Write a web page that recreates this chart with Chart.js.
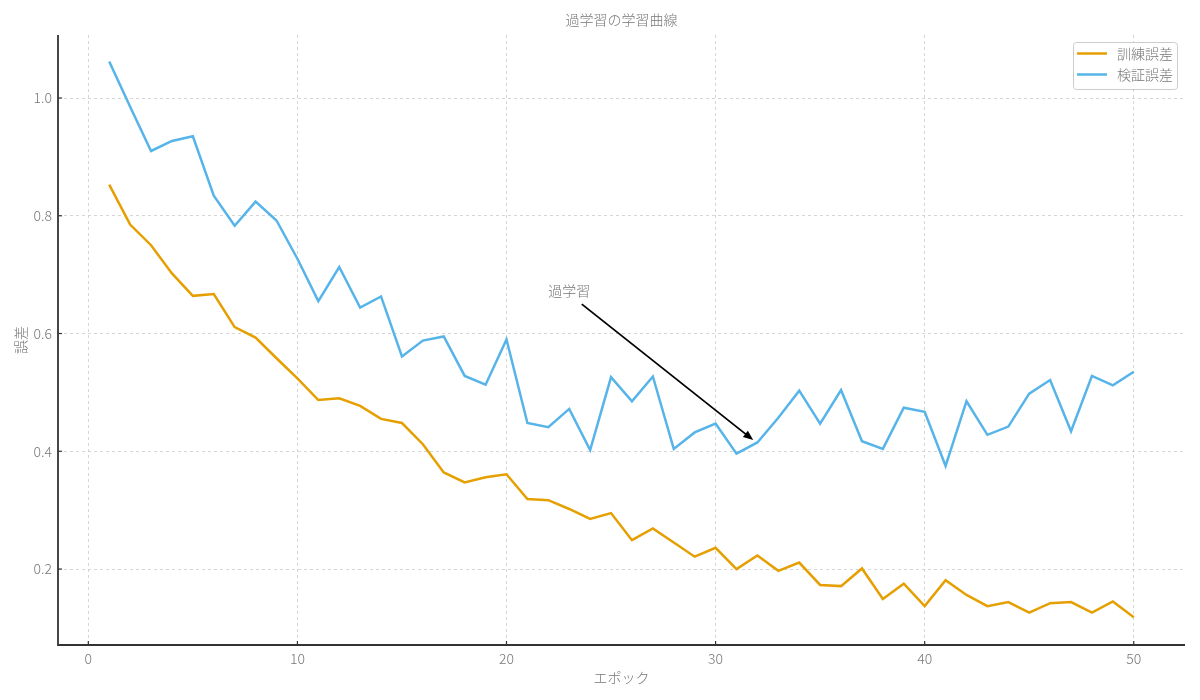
<!DOCTYPE html>
<html>
<head>
<meta charset="utf-8">
<script src="https://cdn.jsdelivr.net/npm/chart.js@4"></script>
<style>
  html, body { margin: 0; padding: 0; background: #ffffff; }
  #wrap { width: 1200px; height: 700px; }
</style>
</head>
<body>
<div id="wrap"><canvas id="c" width="1200" height="700"></canvas></div>
<script>
const chartTitle = '過学習の学習曲線';
const xTitle = 'エポック';
const yTitle = '誤差';
const seriesNames = ['訓練誤差', '検証誤差'];
const epochs = [1,2,3,4,5,6,7,8,9,10,11,12,13,14,15,16,17,18,19,20,21,22,23,24,25,26,27,28,29,30,31,32,33,34,35,36,37,38,39,40,41,42,43,44,45,46,47,48,49,50];
const trainError = [0.853,0.785,0.750,0.702,0.664,0.667,0.611,0.593,0.558,0.524,0.487,0.490,0.477,0.455,0.448,0.412,0.364,0.347,0.356,0.361,0.319,0.317,0.302,0.285,0.295,0.249,0.269,0.245,0.221,0.236,0.200,0.223,0.197,0.211,0.173,0.171,0.201,0.149,0.175,0.137,0.181,0.156,0.137,0.144,0.126,0.142,0.144,0.126,0.145,0.118];
const valError = [1.062,0.985,0.910,0.927,0.935,0.834,0.783,0.824,0.792,0.727,0.655,0.713,0.644,0.663,0.561,0.588,0.595,0.528,0.513,0.590,0.448,0.441,0.472,0.402,0.526,0.485,0.527,0.404,0.432,0.447,0.396,0.415,0.457,0.503,0.447,0.504,0.417,0.404,0.474,0.467,0.375,0.485,0.428,0.442,0.498,0.521,0.434,0.528,0.512,0.535];
const xTicks = [0, 10, 20, 30, 40, 50];
const yTicks = [0.2, 0.4, 0.6, 0.8, 1.0];
const xRange = [-1.45, 52.45];
const yRange = [0.071, 1.107];
const annotationText = '過学習';
const annotationTextAt = [22, 0.672];
const annotationArrowFrom = [23.6, 0.650];
const annotationArrowTo = [31.8, 0.419];

const colors = ['#E69F00', '#56B4E9'];
const textColor = '#777777';
const fontFamily = '"Noto Sans CJK JP", "Noto Sans", sans-serif';

function toXY(xs, ys) { return xs.map((x, i) => ({ x: x, y: ys[i] })); }

const decorPlugin = {
  id: 'decor',
  afterDraw(chart) {
    const ctx = chart.ctx;
    const ca = chart.chartArea;
    const xs = chart.scales.x, ys = chart.scales.y;
    ctx.save();
    // title centred over the plot area
    ctx.fillStyle = textColor;
    ctx.font = '300 14px ' + fontFamily;
    ctx.textAlign = 'center';
    ctx.textBaseline = 'middle';
    ctx.fillText(chartTitle, (ca.left + ca.right) / 2, 20);
    // spines
    ctx.strokeStyle = '#333333';
    ctx.lineWidth = 1.8;
    ctx.setLineDash([]);
    ctx.beginPath();
    ctx.moveTo(ca.left, ca.top);
    ctx.lineTo(ca.left, ca.bottom);
    ctx.lineTo(ca.right, ca.bottom);
    ctx.stroke();
    // inward ticks
    ctx.lineWidth = 1.2;
    xs.ticks.forEach(t => {
      const px = xs.getPixelForValue(t.value);
      ctx.beginPath(); ctx.moveTo(px, ca.bottom); ctx.lineTo(px, ca.bottom - 4); ctx.stroke();
    });
    ys.ticks.forEach(t => {
      const py = ys.getPixelForValue(t.value);
      ctx.beginPath(); ctx.moveTo(ca.left, py); ctx.lineTo(ca.left + 4, py); ctx.stroke();
    });
    // annotation
    ctx.fillStyle = textColor;
    ctx.font = '300 14px ' + fontFamily;
    ctx.textAlign = 'left';
    ctx.textBaseline = 'middle';
    ctx.fillText(annotationText, xs.getPixelForValue(annotationTextAt[0]), ys.getPixelForValue(annotationTextAt[1]));
    const x1 = xs.getPixelForValue(annotationArrowFrom[0]), y1 = ys.getPixelForValue(annotationArrowFrom[1]);
    const x2 = xs.getPixelForValue(annotationArrowTo[0]), y2 = ys.getPixelForValue(annotationArrowTo[1]);
    const ang = Math.atan2(y2 - y1, x2 - x1);
    const hl = 10, hw = 4;
    ctx.strokeStyle = '#000000';
    ctx.fillStyle = '#000000';
    ctx.lineWidth = 1.8;
    ctx.beginPath();
    ctx.moveTo(x1, y1);
    ctx.lineTo(x2 - Math.cos(ang) * hl * 0.8, y2 - Math.sin(ang) * hl * 0.8);
    ctx.stroke();
    ctx.beginPath();
    ctx.moveTo(x2, y2);
    ctx.lineTo(x2 - Math.cos(ang) * hl - Math.sin(ang) * hw, y2 - Math.sin(ang) * hl + Math.cos(ang) * hw);
    ctx.lineTo(x2 - Math.cos(ang) * hl + Math.sin(ang) * hw, y2 - Math.sin(ang) * hl - Math.cos(ang) * hw);
    ctx.closePath();
    ctx.fill();
    // legend
    const bw = 104, bh = 47;
    const bx = ca.right - 8 - bw, by = ca.top + 7;
    ctx.fillStyle = 'rgba(255,255,255,0.85)';
    ctx.strokeStyle = '#cccccc';
    ctx.lineWidth = 1;
    ctx.beginPath();
    if (ctx.roundRect) ctx.roundRect(bx + 0.5, by + 0.5, bw, bh, 3); else ctx.rect(bx + 0.5, by + 0.5, bw, bh);
    ctx.fill();
    ctx.stroke();
    chart.data.datasets.forEach((ds, i) => {
      const ry = by + 11.5 + i * 21;
      ctx.strokeStyle = ds.borderColor;
      ctx.lineWidth = 2.5;
      ctx.beginPath(); ctx.moveTo(bx + 4, ry); ctx.lineTo(bx + 34, ry); ctx.stroke();
      ctx.fillStyle = textColor;
      ctx.font = '300 14px ' + fontFamily;
      ctx.textAlign = 'left';
      ctx.textBaseline = 'middle';
      ctx.fillText(ds.label, bx + 44, ry);
    });
    ctx.restore();
  }
};

new Chart(document.getElementById('c'), {
  type: 'line',
  data: {
    datasets: [
      { label: seriesNames[0], data: toXY(epochs, trainError), borderColor: colors[0], backgroundColor: colors[0], borderWidth: 2.5, pointRadius: 0, tension: 0, fill: false },
      { label: seriesNames[1], data: toXY(epochs, valError), borderColor: colors[1], backgroundColor: colors[1], borderWidth: 2.5, pointRadius: 0, tension: 0, fill: false }
    ]
  },
  options: {
    responsive: false,
    animation: false,
    devicePixelRatio: 1,
    layout: { padding: { left: 0, right: 15, top: 35, bottom: 0 } },
    plugins: {
      legend: { display: false },
      tooltip: { enabled: false },
      title: { display: false }
    },
    scales: {
      x: {
        type: 'linear',
        min: xRange[0],
        max: xRange[1],
        afterBuildTicks: s => { s.ticks = xTicks.map(v => ({ value: v })); },
        afterFit: s => { s.height = 55; },
        grid: { color: '#cccccc', lineWidth: 0.8, drawTicks: false },
        border: { display: false, dash: [3, 3] },
        ticks: { color: textColor, padding: 5, font: { family: fontFamily, size: 14, weight: '300' }, maxRotation: 0 },
        title: { display: true, text: xTitle, color: textColor, font: { family: fontFamily, size: 14, weight: '300' }, padding: { top: 0, bottom: 14 } }
      },
      y: {
        type: 'linear',
        min: yRange[0],
        max: yRange[1],
        afterBuildTicks: s => { s.ticks = yTicks.map(v => ({ value: v })); },
        afterFit: s => { s.width = 58; },
        grid: { color: '#cccccc', lineWidth: 0.8, drawTicks: false },
        border: { display: false, dash: [3, 3] },
        ticks: { color: textColor, padding: 6, font: { family: fontFamily, size: 14, weight: '300' }, callback: v => Number(v).toFixed(1) },
        title: { display: true, text: yTitle, color: textColor, font: { family: fontFamily, size: 14, weight: '300' }, padding: { top: 12, bottom: 0 } }
      }
    }
  },
  plugins: [decorPlugin]
});
</script>
</body>
</html>
